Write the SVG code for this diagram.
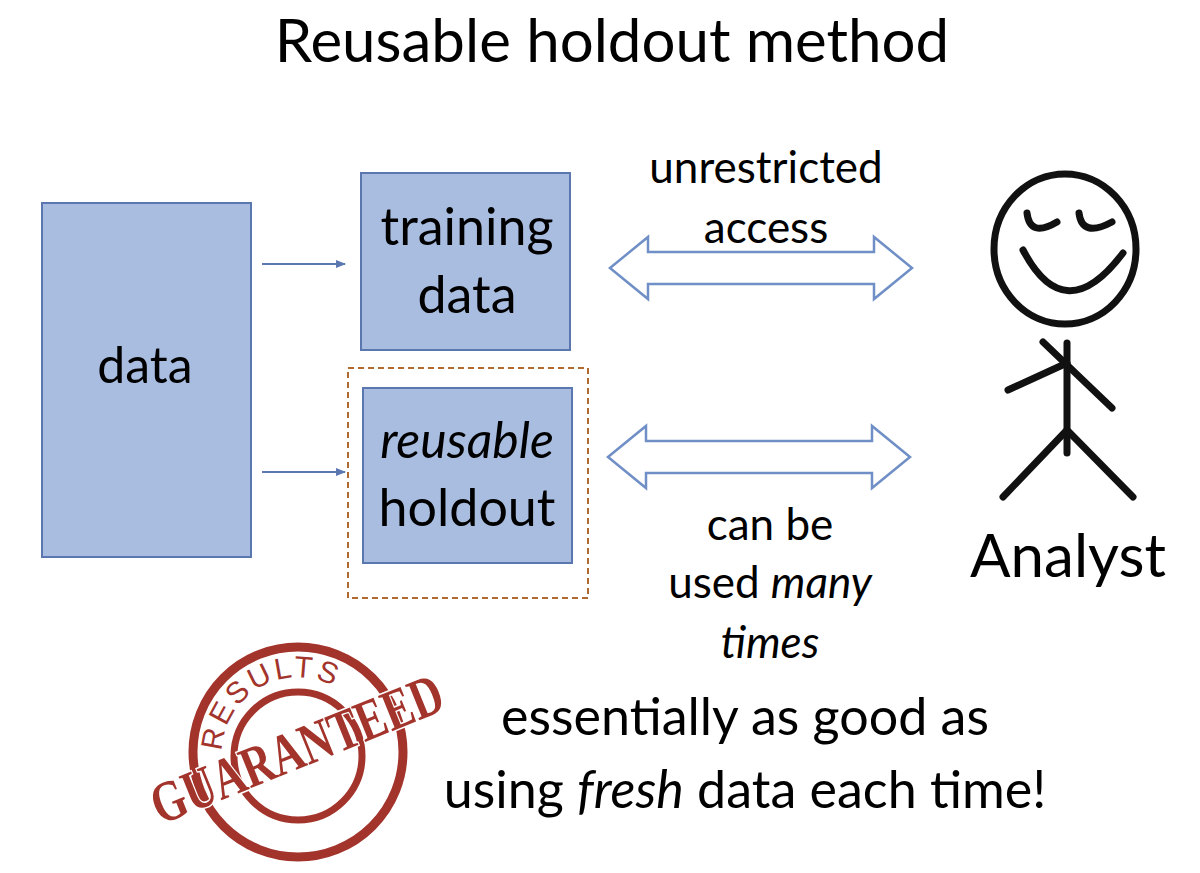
<svg xmlns="http://www.w3.org/2000/svg" width="1200" height="873" viewBox="0 0 1200 873">
<style>
text{font-family:Lato,"Open Sans","Liberation Sans",sans-serif;fill:#000;text-anchor:middle}
.box{fill:#a9bde0;stroke:#5a77b0;stroke-width:2}
.dbl{fill:#fff;stroke:#6f8fc6;stroke-width:2.5}
.ln{stroke:#5a77b0;stroke-width:2}
.fig{fill:none;stroke:#111;stroke-width:7;stroke-linecap:round}
</style>
<defs>
<marker id="ah" markerWidth="10" markerHeight="10" refX="9" refY="5" orient="auto" markerUnits="userSpaceOnUse"><path d="M0,1 L10,5 L0,9 Z" fill="#5a77b0"/></marker>
<path id="arc" d="M222,756 A76,76 0 0 1 340,690"/>
</defs>
<text x="612" y="62" font-size="60">Reusable holdout method</text>
<g id="data"><rect class="box" x="42" y="203" width="209" height="354"/><text x="145" y="383" font-size="50">data</text></g>
<g id="training"><rect class="box" x="361" y="173" width="209" height="177"/><text x="467" y="245" font-size="52">training</text><text x="467" y="313" font-size="52">data</text></g>
<g id="holdout"><rect x="348" y="368" width="240" height="230" fill="none" stroke="#b06a30" stroke-width="2" stroke-dasharray="6,4"/><rect class="box" x="363" y="388" width="209" height="175"/><text x="467" y="458" font-size="50" font-style="italic">reusable</text><text x="467" y="526" font-size="52">holdout</text></g>
<g id="connectors">
<line class="ln" x1="262" y1="264" x2="345" y2="264" marker-end="url(#ah)"/>
<line class="ln" x1="262" y1="472" x2="345" y2="472" marker-end="url(#ah)"/>
<path class="dbl" d="M610,268 L648,237 L648,252 L874,252 L874,237 L912,268 L874,299 L874,284 L648,284 L648,299 Z"/>
<path class="dbl" d="M608,457 L646,426 L646,441 L872,441 L872,426 L910,457 L872,488 L872,473 L646,473 L646,488 Z"/>
</g>
<g id="labels">
<text x="766" y="183" font-size="44">unrestricted</text><text x="766" y="243" font-size="44">access</text>
<text x="770" y="540" font-size="44">can be</text>
<text x="770" y="598" font-size="44">used <tspan font-style="italic">many</tspan></text>
<text x="770" y="658" font-style="italic" font-size="44">times</text>
</g>
<g id="analyst">
<ellipse class="fig" cx="1065" cy="249" rx="71" ry="75" stroke-width="6"/>
<path class="fig" d="M1027,213 Q1030,238 1057,222"/>
<path class="fig" d="M1079,213 Q1082,238 1112,222"/>
<path class="fig" d="M1023,250 Q1065,330 1123,253"/>
<path class="fig" d="M1067,343 L1067,453"/>
<path class="fig" d="M1043,342 L1112,408"/>
<path class="fig" d="M1008,390 L1067,363"/>
<path class="fig" d="M1067,430 L1003,497 M1067,430 L1133,497"/>
<text x="1068" y="577" font-size="60">Analyst</text>
</g>
<g id="stamp">
<circle cx="298" cy="752" r="105" fill="none" stroke="#a3342c" stroke-width="9"/>
<circle cx="298" cy="756" r="64" fill="none" stroke="#a3342c" stroke-width="7"/>
<text font-size="30" style="fill:#a3342c;font-family:'Liberation Sans',sans-serif" letter-spacing="3"><textPath href="#arc" startOffset="50%">RESULTS</textPath></text>
<text x="298" y="768" font-size="58" font-weight="bold" transform="rotate(-22 298 752)" style="fill:#a3342c;font-family:'Liberation Serif',serif" textLength="310" lengthAdjust="spacingAndGlyphs" stroke="#fff" stroke-width="3" paint-order="stroke">GUARANTEED</text>
</g>
<g id="footer">
<text x="745" y="735" font-size="52">essentially as good as</text>
<text x="745" y="808" font-size="52">using <tspan font-style="italic">fresh</tspan> data each time!</text>
</g>
</svg>
